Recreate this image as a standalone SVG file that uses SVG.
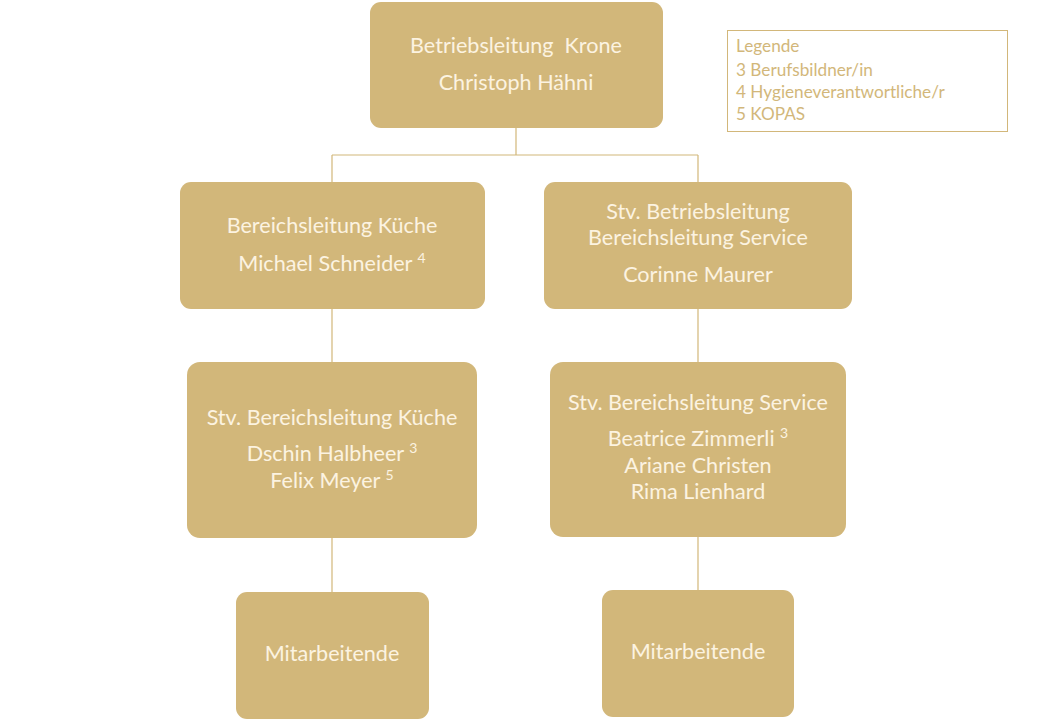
<svg xmlns="http://www.w3.org/2000/svg" width="1040" height="720" viewBox="0 0 1040 720">
<style>
.box{fill:#D2B77A}
.t{font-family:Lato,"Liberation Sans",sans-serif;font-size:21.6px;fill:#FCF3E1;text-anchor:middle}
.sup{font-size:14px}
.con{stroke:#D2B77A;stroke-width:1.2;fill:none}
.leg{font-family:Lato,"Liberation Sans",sans-serif;font-size:17.2px;fill:#D2B77A}
</style>
<rect width="1040" height="720" fill="#FFFFFF"/>
<g id="connectors">
<path class="con" d="M516 128V155M332 155H698M332 155V182M698 155V182M332 309V362M698 309V362M332 538V592M698 537V590"/>
</g>
<g id="n-top">
<rect class="box" x="370" y="2" width="293" height="126" rx="11"/>
<text class="t" x="516" y="53">Betriebsleitung&#160; Krone</text>
<text class="t" x="516" y="90">Christoph Hähni</text>
</g>
<g id="n-kueche">
<rect class="box" x="180" y="182" width="305" height="127" rx="11"/>
<text class="t" x="332" y="233">Bereichsleitung Küche</text>
<text class="t" x="332" y="271">Michael Schneider <tspan class="sup" dy="-8">4</tspan></text>
</g>
<g id="n-service">
<rect class="box" x="544" y="182" width="308" height="127" rx="11"/>
<text class="t" x="698" y="219">Stv. Betriebsleitung</text>
<text class="t" x="698" y="245">Bereichsleitung Service</text>
<text class="t" x="698" y="282">Corinne Maurer</text>
</g>
<g id="n-stv-kueche">
<rect class="box" x="187" y="362" width="290" height="176" rx="13"/>
<text class="t" x="332" y="425">Stv. Bereichsleitung Küche</text>
<text class="t" x="332" y="461">Dschin Halbheer <tspan class="sup" dy="-8">3</tspan></text>
<text class="t" x="332" y="488">Felix Meyer <tspan class="sup" dy="-8">5</tspan></text>
</g>
<g id="n-stv-service">
<rect class="box" x="550" y="362" width="296" height="175" rx="13"/>
<text class="t" x="698" y="410">Stv. Bereichsleitung Service</text>
<text class="t" x="698" y="446">Beatrice Zimmerli <tspan class="sup" dy="-8">3</tspan></text>
<text class="t" x="698" y="473">Ariane Christen</text>
<text class="t" x="698" y="499">Rima Lienhard</text>
</g>
<g id="n-ma-kueche">
<rect class="box" x="236" y="592" width="193" height="127" rx="11"/>
<text class="t" x="332" y="661">Mitarbeitende</text>
</g>
<g id="n-ma-service">
<rect class="box" x="602" y="590" width="192" height="127" rx="11"/>
<text class="t" x="698" y="659">Mitarbeitende</text>
</g>
<g id="legend">
<rect x="727.5" y="30.5" width="280" height="101" fill="none" stroke="#D2B77A" stroke-width="1"/>
<text class="leg" x="736" y="52">Legende</text>
<text class="leg" x="736" y="76">3 Berufsbildner/in</text>
<text class="leg" x="736" y="98">4 Hygieneverantwortliche/r</text>
<text class="leg" x="736" y="120">5 KOPAS</text>
</g>
</svg>
